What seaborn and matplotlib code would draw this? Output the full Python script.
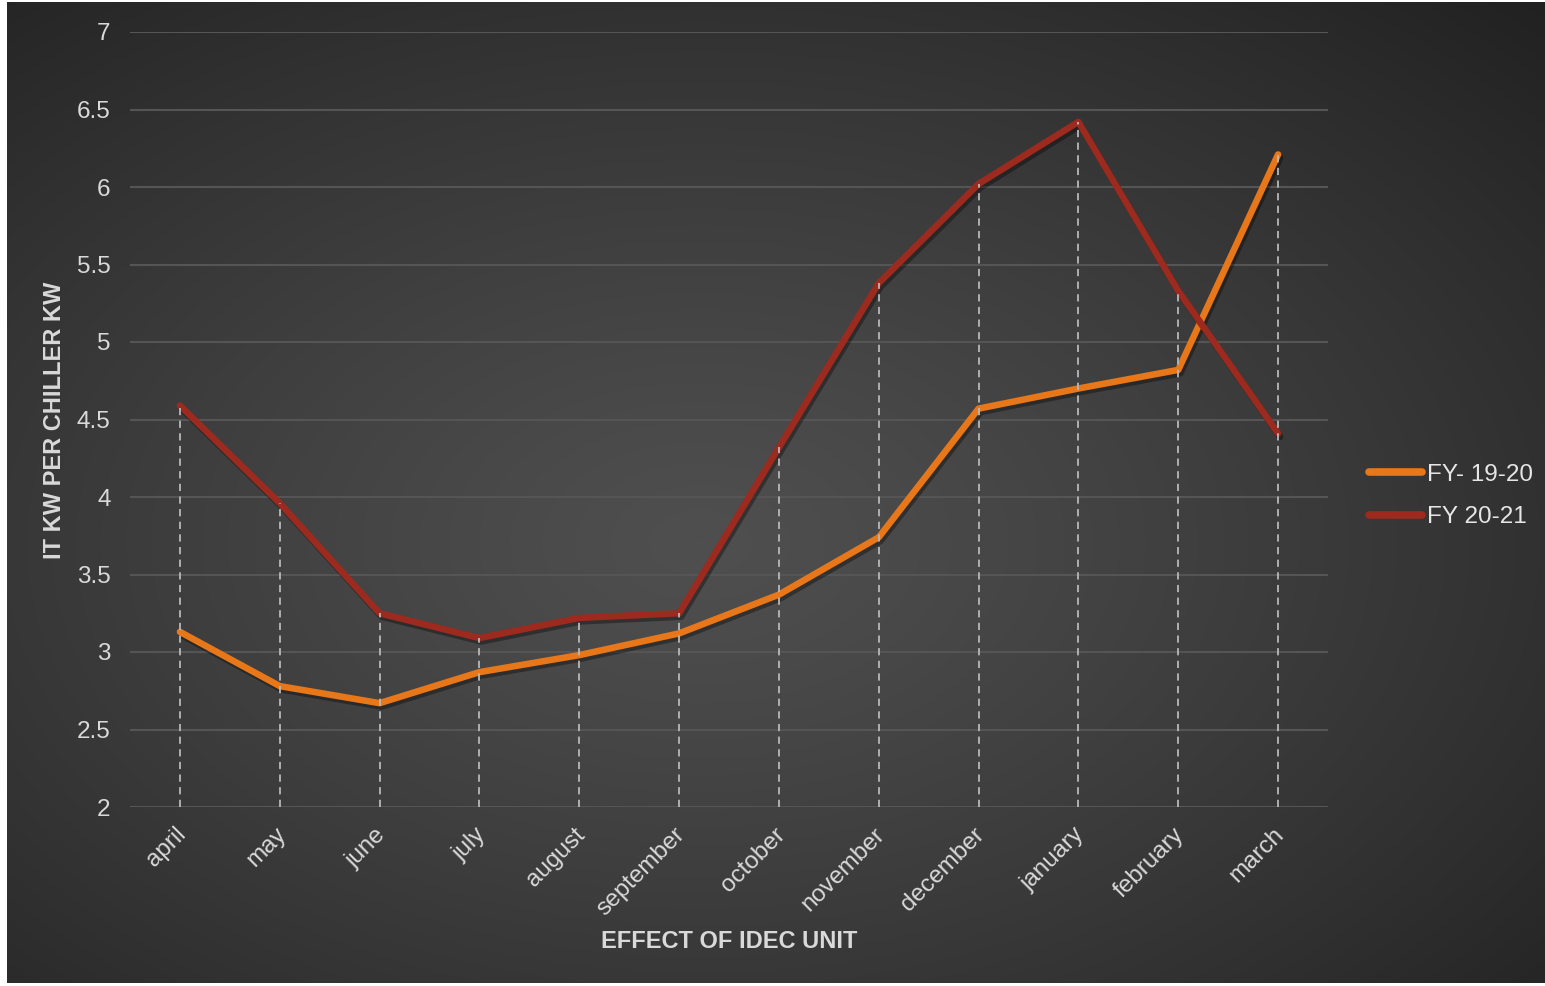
import numpy as np
import pandas as pd
import matplotlib
matplotlib.use("Agg")
import matplotlib.pyplot as plt
import matplotlib.patheffects as pe
import matplotlib.transforms as mtransforms
from matplotlib.lines import Line2D
import seaborn as sns

months = ["april", "may", "june", "july", "august", "september", "october",
          "november", "december", "january", "february", "march"]
fy1920 = [3.13, 2.78, 2.67, 2.87, 2.98, 3.12, 3.37, 3.74, 4.57, 4.70, 4.82, 6.21]
fy2021 = [4.59, 3.96, 3.25, 3.09, 3.22, 3.25, 4.32, 5.38, 6.02, 6.42, 5.33, 4.41]
series_names = ["FY- 19-20", "FY 20-21"]
colors = ["#E8771A", "#9C2A1E"]
y_ticks = [2, 2.5, 3, 3.5, 4, 4.5, 5, 5.5, 6, 6.5, 7]
y_tick_labels = ["2", "2.5", "3", "3.5", "4", "4.5", "5", "5.5", "6", "6.5", "7"]
x_label = "EFFECT OF IDEC UNIT"
y_label = "IT KW PER CHILLER KW"

df = pd.DataFrame({
    "month": months * 2,
    "idx": list(range(len(months))) * 2,
    "value": fy1920 + fy2021,
    "series": [series_names[0]] * len(months) + [series_names[1]] * len(months),
})

sns.set_theme(style="dark")
plt.rcParams["font.family"] = ["Liberation Sans", "DejaVu Sans"]

W, H = 1545, 986
fig = plt.figure(figsize=(W / 100, H / 100), dpi=100)
fig.patch.set_facecolor("white")

# radial gradient background
bg = fig.add_axes([7 / W, 3 / H, 1 - 7 / W, 1 - 5 / H])
yy, xx = np.mgrid[0:400, 0:640]
cx, cy = 0.45 * 640, 0.55 * 400
r = np.sqrt(((xx - cx) / 640) ** 2 + ((yy - cy) / 400) ** 2)
r = r / r.max()
v = 0.31 - 0.18 * r ** 1.2
img = np.dstack([v, v, v])
bg.imshow(img, aspect="auto", extent=[0, 1, 0, 1], interpolation="bicubic")
bg.set_axis_off()
bg.set_zorder(-10)

ax = fig.add_axes([130 / W, 1 - 807 / H, (1328 - 130) / W, (807 - 32) / H])
ax.set_facecolor("none")

sns.lineplot(data=df, x="idx", y="value", hue="series", palette=colors,
             hue_order=series_names, linewidth=4.7, ax=ax, legend=False,
             solid_capstyle="round", solid_joinstyle="round", sort=False)
for ln in ax.lines:
    ln.set_path_effects([pe.SimpleLineShadow(offset=(1.5, -2.5), shadow_color="black", alpha=0.35),
                         pe.Normal()])
    ln.set_zorder(3)

# drop lines
tops = np.maximum(fy1920, fy2021)
ax.vlines(range(len(months)), 2, tops, colors="#b8b8b8", linestyles=(0, (4, 3)),
          linewidth=1.3, zorder=4)

ax.set_xlim(-0.5, len(months) - 0.5)
ax.set_ylim(2, 7)
ax.set_yticks(y_ticks)
ax.set_yticklabels(y_tick_labels)
ax.set_xticks(range(len(months)))
ax.set_xticklabels(months, rotation=45, ha="right", rotation_mode="anchor")
ax.tick_params(axis="both", colors="#d9d9d9", labelsize=17.5, length=0)
ax.tick_params(axis="y", pad=14)
ax.tick_params(axis="x", pad=12)
offset = mtransforms.ScaledTranslation(-5 / 100, 0 / 100, fig.dpi_scale_trans)
for lbl in ax.get_xticklabels():
    lbl.set_color("#d9d9d9")
    lbl.set_transform(lbl.get_transform() + offset)
for lbl in ax.get_yticklabels():
    lbl.set_color("#d9d9d9")

ax.grid(axis="y", color="#555555", linewidth=1.5)
ax.grid(axis="x", visible=False)
for s in ax.spines.values():
    s.set_visible(False)

ax.set_xlabel("")
ax.set_ylabel("")
fig.text(729 / W, 1 - 942 / H, x_label, ha="center", va="center", fontsize=17,
         fontweight="bold", color="#d9d9d9")
fig.text(55 / W, 1 - 420 / H, y_label, ha="center", va="center", fontsize=17,
         fontweight="bold", color="#d9d9d9", rotation=90)

handles = [Line2D([0], [0], color=c, linewidth=5.5, solid_capstyle="round") for c in colors]
leg = fig.legend(handles, series_names, loc="center left",
                 bbox_to_anchor=(1369 / W, 1 - 496 / H), frameon=False,
                 fontsize=17.5, handlelength=2.2, handletextpad=0.2, labelspacing=0.85,
                 borderpad=0, borderaxespad=0)
for t in leg.get_texts():
    t.set_color("#e6e6e6")

fig.savefig("out.png", dpi=100, facecolor=fig.get_facecolor())
